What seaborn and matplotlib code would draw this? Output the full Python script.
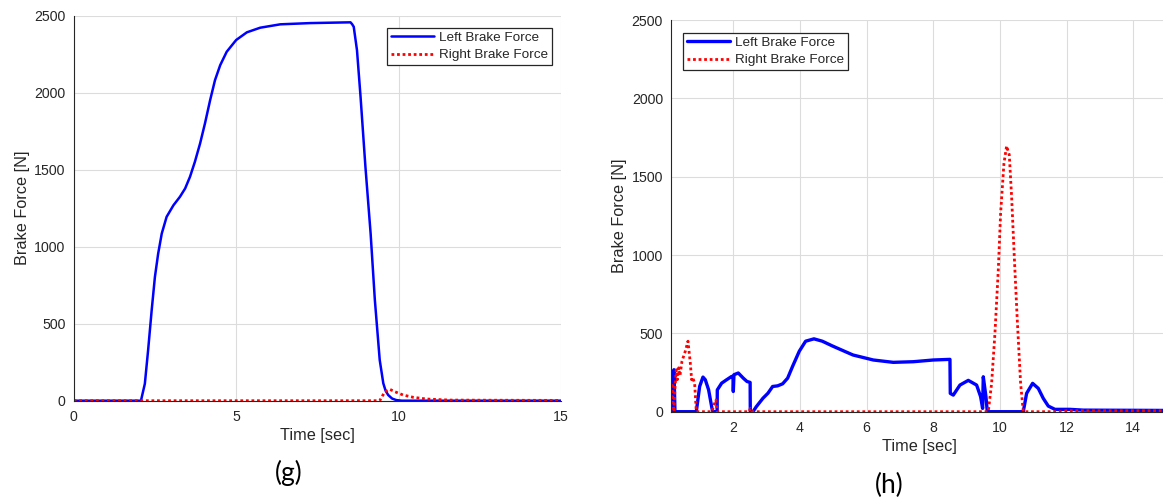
import matplotlib
matplotlib.use("Agg")
import matplotlib.pyplot as plt
import seaborn as sns
import pandas as pd

# ---------------- data ----------------
# panel (g)
g_left_time = [0, 2.07, 2.19, 2.29, 2.40, 2.50, 2.60, 2.71, 2.86, 3.07, 3.27, 3.43, 3.58,
               3.73, 3.89, 4.04, 4.20, 4.35, 4.51, 4.71, 5.0, 5.33, 5.74, 6.36, 7.28, 8.52,
               8.57, 8.62, 8.72, 8.83, 8.98, 9.14, 9.27, 9.42, 9.53, 9.60, 9.68, 9.80, 9.93,
               10.1, 15.0]
g_left_force = [0, 0, 110, 327, 587, 804, 955, 1085, 1194, 1269, 1324, 1378, 1454,
                1551, 1670, 1800, 1952, 2082, 2179, 2266, 2342, 2392, 2422, 2444, 2452, 2457,
                2445, 2428, 2276, 1973, 1518, 1085, 654, 264, 113, 65, 37, 14, 4,
                0, 0]
g_right_time = [0, 9.42, 9.50, 9.58, 9.73, 9.89, 10.14, 10.45, 10.86, 11.58, 13.0, 15.0]
g_right_force = [0, 0, 30, 58, 74, 58, 37, 22, 11, 4, 3, 2]

# panel (h)
h_left_time = [0.14, 0.20, 0.22, 0.25, 0.89, 0.99, 1.09, 1.16, 1.26, 1.36, 1.39, 1.515,
               1.52, 1.65, 1.80, 1.95, 1.99, 2.00, 2.02, 2.15, 2.30, 2.41, 2.505, 2.51,
               2.59, 2.69, 2.89, 3.04, 3.18, 3.33, 3.48, 3.63, 3.78, 3.98, 4.17, 4.42,
               4.67, 4.99, 5.59, 6.2, 6.8, 7.4, 8.0, 8.5, 8.51, 8.6, 8.8, 9.05, 9.3,
               9.42, 9.48, 9.50, 9.58, 9.62, 10.70, 10.8, 10.98, 11.15, 11.3, 11.45,
               11.65, 12.1, 12.5, 15.0]
h_left_force = [0, 0, 268, 0, 0, 161, 221, 204, 139, 21, 0, 0,
                139, 182, 204, 225, 225, 129, 236, 247, 214, 193, 187, 0,
                0, 32, 86, 118, 161, 165, 178, 214, 290, 386, 450, 465,
                450, 418, 362, 330, 315, 319, 330, 334, 117, 106, 170, 200, 170,
                96, 21, 223, 96, 0, 0, 117, 181, 149, 85, 36,
                15, 15, 10, 8]
h_right_time = [0.14, 0.16, 0.19, 0.22, 0.25, 0.29, 0.32, 0.36, 0.40, 0.46, 0.56, 0.64,
                0.71, 0.75, 0.78, 0.84, 0.89, 1.36, 1.40, 1.48, 1.52, 2.47, 2.51, 2.57,
                9.65, 9.75, 9.85, 9.95, 10.02, 10.12, 10.20, 10.28, 10.35, 10.43, 10.52,
                10.62, 10.70, 11.8, 12.0, 15.0]
h_right_force = [50, 182, 60, 0, 150, 268, 204, 280, 230, 322, 386, 450,
                 311, 204, 220, 182, 0, 0, 32, 75, 0, 0, 21, 0,
                 0, 181, 500, 904, 1266, 1585, 1696, 1639, 1373, 990, 585,
                 181, 0, 0, 6, 6]

series_labels = ["Left Brake Force", "Right Brake Force"]
panel_labels = ["(g)", "(h)"]
x_label = "Time [sec]"
y_label = "Brake Force [N]"

# ---------------- style ----------------
sns.set_style("white")
plt.rcParams["font.family"] = ["Liberation Sans", "DejaVu Sans"]
TXT = "#262626"
BLUE = "#0000ff"
RED = "#ff0000"

W, H = 1163, 500
fig = plt.figure(figsize=(W / 100, H / 100), dpi=100)


def px_axes(x0, x1, ytop, ybot):
    return fig.add_axes([x0 / W, 1 - ybot / H, (x1 - x0) / W, (ybot - ytop) / H])


ax_g = px_axes(73.7, 561.0, 15.7, 400.7)
ax_h = px_axes(671.3, 1166.6, 20.0, 411.7)


def draw(ax, lt, lf, rt, rf, lw_blue):
    sns.lineplot(x=lt, y=lf, ax=ax, color=BLUE, lw=lw_blue, label=series_labels[0],
                 estimator=None, sort=False)
    sns.lineplot(x=rt, y=rf, ax=ax, color=RED, lw=2.0, linestyle=(0, (1, 1)),
                 label=series_labels[1], estimator=None, sort=False)
    ax.set_ylim(0, 2500)
    ax.set_yticks([0, 500, 1000, 1500, 2000, 2500])
    ax.grid(True, color="#dcdcdc", lw=0.8)
    ax.set_axisbelow(True)
    for s in ["top", "right"]:
        ax.spines[s].set_visible(False)
    for s in ["left", "bottom"]:
        ax.spines[s].set_color(TXT)
        ax.spines[s].set_linewidth(0.8)
    ax.tick_params(axis="both", direction="in", length=4, width=0.8, colors=TXT,
                   labelsize=10.2)
    ax.tick_params(axis="x", pad=6.5)
    ax.tick_params(axis="y", pad=6)
    ax.set_xlabel(x_label, fontsize=11.7, color=TXT, labelpad=3)
    ax.set_ylabel(y_label, fontsize=11.7, color=TXT, labelpad=3)


draw(ax_g, g_left_time, g_left_force, g_right_time, g_right_force, 1.8)
ax_g.set_xlim(0, 15)
ax_g.set_xticks([0, 5, 10, 15])

draw(ax_h, h_left_time, h_left_force, h_right_time, h_right_force, 2.4)
ax_h.set_xlim(0.14, 15)
ax_h.set_xticks([2, 4, 6, 8, 10, 12, 14])

leg_kw = dict(fontsize=9.7, frameon=True, fancybox=False, borderaxespad=0,
              borderpad=0.3, labelspacing=0.35, handlelength=3.2, handletextpad=0.35)
lg = ax_g.legend(loc="upper right", bbox_to_anchor=(0.9815, 0.969), **leg_kw)
lh = ax_h.legend(loc="upper left", bbox_to_anchor=(0.0236, 0.9676), **leg_kw)
for lg_ in (lg, lh):
    fr = lg_.get_frame()
    fr.set_edgecolor(TXT)
    fr.set_linewidth(0.9)
    fr.set_alpha(1)
    for t in lg_.get_texts():
        t.set_color(TXT)

fig.text(289 / W, 1 - 473 / H, panel_labels[0], fontsize=19, family=["Lato", "DejaVu Sans"],
         ha="center", va="center", color="black")
fig.text(889 / W, 1 - 485 / H, panel_labels[1], fontsize=19, family=["Lato", "DejaVu Sans"],
         ha="center", va="center", color="black")

fig.savefig("out.png", dpi=100)
